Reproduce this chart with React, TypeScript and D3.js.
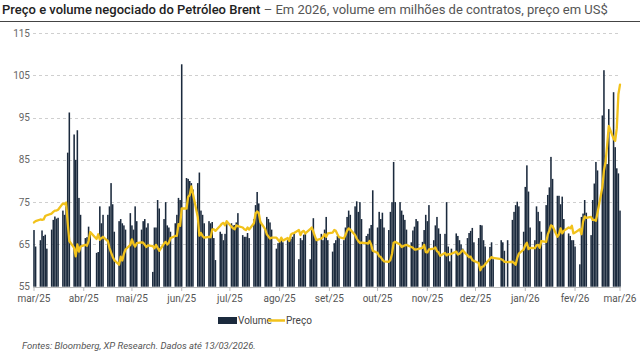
import React from "react";
import * as d3 from "d3";

// volume (read in axis units), one array per month
const volMar25 = [68.4, 64.5, 66, 68.3, 67, 67.3, 64, 68.5, 70.8, 71.6, 71.1, 71.3, 73];
const volApr25 = [72, 74, 86.7, 96.2, 91, 85, 92, 76, 72, 66.5, 66.7, 69.2, 68, 63, 63.2, 74, 70, 72, 72, 74, 79.5];
const volMay25 = [74.5, 68, 70.5, 71, 70, 69.5, 68.5, 72.4, 69.5, 68.5, 74, 70.5, 68.5, 70.5, 71, 69, 70, 58.5, 69, 69, 75.5, 73.5];
const volJun25 = [71, 75, 69.5, 69, 68, 70, 72, 76, 75.5, 107.6, 80.7, 80.5, 80, 79.5, 78, 79.5, 82, 73, 72, 70, 70.5];
const volJul25 = [70, 70.3, 66.5, 61.3, 68, 67.5, 66, 67.5, 70, 70, 69.5, 69.6, 70.2, 72.4, 67.2, 66.8, 66.8, 67.7, 66.5, 71, 74.3, 77.4, 74.7];
const volAug25 = [70.5, 68.5, 71.5, 71, 70.2, 68.5, 64, 65.3, 66, 66.4, 65.5, 66, 66.5, 66.3, 66.8, 67.5, 61.5, 66.5, 66, 67.3, 67.5];
const volSep25 = [61.5, 68.4, 71.2, 67, 66, 67.5, 66, 68.5, 71.5, 66, 63.3, 65.3, 66, 67, 66.5, 66, 69, 71.5, 73, 72, 74, 75.2];
const volOct25 = [72.7, 75, 71, 67, 67.5, 68.8, 69.6, 77.8, 69, 72.7, 71, 72.5, 69, 68.4, 72.7, 75, 84.5, 75, 75, 73, 72, 70.8, 68.5];
const volNov25 = [65.5, 68.3, 69.2, 71, 70.5, 65.6, 68.4, 72, 70.5, 74.3, 66, 69.5, 71.5, 68.8, 67.5, 67.5, 75, 64.5, 61, 64];
const volDec25 = [67.6, 67, 66, 65, 64, 66.5, 67.7, 68.2, 68.9, 65.5, 66.5, 69.6, 69.5, 66, 64.5, 64.4, 65.5, 61.5, 66, 65.5, 63.5];
const volJan26 = [66, 70.8, 72.7, 74.3, 75.1, 74, 68, 78.6, 83.7, 77.5, 69, 66, 74, 72.7, 70.5, 68, 74.3, 76.7, 78.5, 85.7, 80.5];
const volFeb26 = [76.5, 76.5, 74.5, 76.3, 71, 67.6, 67, 66, 66, 64.5, 60.3, 71.5, 72.3, 75.5, 72.5, 67.2, 75.5, 79.4, 84.5, 82.5];
const volMar26 = [95.5, 106.2, 86, 84, 97, 101, 88, 83, 81.8, 73];

// Brent price, US$
const prcMar25 = [70.2, 70.5, 70.9, 70.8, 70.9, 71.7, 71.9, 72.3, 72.7, 73, 73, 73.2, 74.7];
const prcApr25 = [74.5, 74.9, 70, 65.8, 64.2, 62.2, 65, 63.3, 64.5, 64.9, 64.7, 65.8, 67.9, 66.3, 67.4, 66.1, 66.5, 66.8, 65.8, 64.2, 63.1];
const prcMay25 = [62.1, 61.3, 60.2, 62.1, 61.2, 62.8, 63.8, 64.9, 66.2, 65.1, 64.5, 65.3, 65.5, 65.4, 64.9, 64.4, 64.8, 64.6, 64.1, 64.9, 64.2, 63.5];
const prcJun25 = [65.2, 65.6, 65, 65.4, 66.5, 67, 67, 69.8, 69.4, 73.5, 73.5, 76.2, 76.7, 78.7, 77, 71.5, 67.1, 67.7, 67, 66.6, 66.8];
const prcJul25 = [66.7, 68.5, 68.6, 68.2, 69.4, 69.9, 70.1, 69.5, 70.5, 69.2, 68.8, 68.6, 69.5, 69.3, 69, 68.6, 68.4, 69, 68.5, 70, 72.3, 72.8, 72.4];
const prcAug25 = [70.3, 68.6, 67.4, 66.9, 66.4, 66.6, 66.6, 66.1, 65.7, 66.6, 65.9, 66.5, 65.8, 67.3, 67.6, 67.7, 68.4, 67.2, 68, 68.2, 67.6];
const prcSep25 = [68.6, 69, 68, 66.9, 66, 66.4, 66.8, 67.4, 66.8, 67.6, 67.8, 68.4, 68.2, 67.4, 66.7, 66.4, 67.2, 68.2, 68.8, 68.5, 67.2, 66.4];
const prcOct25 = [65.8, 65.3, 65.4, 65.3, 65.2, 65.8, 65, 63.5, 63, 62.2, 62, 61.4, 61, 60.9, 61.3, 62.8, 65.4, 65.6, 65, 64.4, 64.6, 64.8, 64.9];
const prcNov25 = [64.4, 64.2, 63.8, 63.8, 63.9, 64.2, 64.9, 63.2, 63.1, 63.8, 64, 64.3, 63.4, 63.1, 62.3, 63, 62.4, 62.7, 62.6, 62.8];
const prcDec25 = [63.3, 62.6, 62.8, 63.2, 63.6, 62.4, 62, 62.1, 61.3, 61.1, 60.6, 58.9, 59.7, 59.8, 60.3, 61.6, 62, 61.8, 61.5, 61.3, 60.9];
const prcJan26 = [60.8, 60.9, 60.6, 60.2, 61.8, 62.8, 63.8, 64.8, 65.4, 63.9, 64.2, 64.1, 64.8, 64.9, 64.2, 65.8, 65.6, 67.3, 68.3, 69.5, 69.3];
const prcFeb26 = [66.8, 67.4, 68.8, 67.6, 68.2, 69, 68.8, 69.4, 67.6, 67.8, 68.6, 67.4, 70.4, 71.6, 71.3, 71.5, 70.8, 70.8, 70.6, 72.5];
const prcMar26 = [78.5, 82.5, 84.5, 88.5, 93, 90, 89.5, 92.5, 100.5, 102.8];

const monthLabels = ["mar/25", "abr/25", "mai/25", "jun/25", "jul/25", "ago/25", "set/25", "out/25", "nov/25", "dez/25", "jan/26", "fev/26", "mar/26"];
const yTicks = [55, 65, 75, 85, 95, 105, 115];
const holidays = ["2025-04-18", "2025-12-25", "2025-12-26", "2026-01-01"];

const volume = [volMar25, volApr25, volMay25, volJun25, volJul25, volAug25, volSep25, volOct25, volNov25, volDec25, volJan26, volFeb26, volMar26].flat();
const price = [prcMar25, prcApr25, prcMay25, prcJun25, prcJul25, prcAug25, prcSep25, prcOct25, prcNov25, prcDec25, prcJan26, prcFeb26, prcMar26].flat();

const start = new Date(2025, 2, 13);
const end = new Date(2026, 2, 13);
const fmt = d3.timeFormat("%Y-%m-%d");
const dates = d3.timeDay
  .range(start, d3.timeDay.offset(end, 1))
  .filter((d) => d.getDay() % 6 !== 0 && !holidays.includes(fmt(d)));

const rows = dates
  .slice(0, Math.min(volume.length, price.length))
  .map((d, i) => ({ date: d, vol: volume[i], prc: price[i] }));

const W = 640;
const H = 353;
const NAVY = "#1b2a3d";
const GOLD = "#f2c21b";

export default function App() {
  const x = d3.scaleTime().domain([start, end]).range([34, 620]);
  const y = d3.scaleLinear().domain([55, 115]).range([286.7, 33]);
  const bw = 1.55;

  const line = d3
    .line<{ date: Date; prc: number }>()
    .x((d) => x(d.date))
    .y((d) => y(d.prc));

  const tickDates = monthLabels.map((_, i) => d3.timeMonth.offset(start, i));

  return (
    <svg
      width={W}
      height={H}
      style={{ position: "absolute", left: 0, top: 0, fontFamily: "Roboto, sans-serif" }}
    >
      <rect width={W} height={H} fill="#fff" />
      <text x={2} y={14} fontSize={13} fill="#222">
        <tspan fontWeight={500}>Preço e volume negociado do Petróleo Brent</tspan>
        <tspan fill="#555" fontWeight={400}> – Em 2026, volume em milhões de contratos, preço em US$</tspan>
      </text>
      <line x1={0} x2={W} y1={21.5} y2={21.5} stroke="#444" strokeWidth={1} />

      {yTicks.map((t) => (
        <g key={t}>
          {t > 55 && (
            <line
              x1={33}
              x2={621}
              y1={Math.round(y(t)) + 0.5}
              y2={Math.round(y(t)) + 0.5}
              stroke="#cfcfcf"
              strokeDasharray="3,3"
            />
          )}
          <text x={30} y={y(t) + 3.5} fontSize={10} fill="#666" textAnchor="end">
            {t}
          </text>
        </g>
      ))}

      {rows.map((r, i) => (
        <rect
          key={i}
          x={x(r.date) - bw / 2}
          y={y(r.vol)}
          width={bw}
          height={y(55) - y(r.vol)}
          fill={NAVY}
        />
      ))}

      <line x1={33} x2={621} y1={287.5} y2={287.5} stroke="#bbb" />
      {tickDates.map((d, i) => (
        <g key={i}>
          <line x1={x(d)} x2={x(d)} y1={287.5} y2={291} stroke="#bbb" />
          <text x={x(d)} y={302} fontSize={10} fill="#555" textAnchor="middle">
            {monthLabels[i]}
          </text>
        </g>
      ))}

      <path
        d={line(rows) || ""}
        fill="none"
        stroke={GOLD}
        strokeWidth={2.3}
        strokeLinejoin="round"
        strokeLinecap="round"
      />

      <rect x={218} y={317} width={19} height={7} fill={NAVY} />
      <text x={238} y={324} fontSize={10} fill="#444">Volume</text>
      <line x1={268} x2={285} y1={320.5} y2={320.5} stroke={GOLD} strokeWidth={2.5} />
      <text x={286} y={324} fontSize={10} fill="#444">Preço</text>

      <text x={22} y={349} fontSize={9.5} fontStyle="italic" fill="#555">
        Fontes: Bloomberg, XP Research. Dados até 13/03/2026.
      </text>
    </svg>
  );
}
